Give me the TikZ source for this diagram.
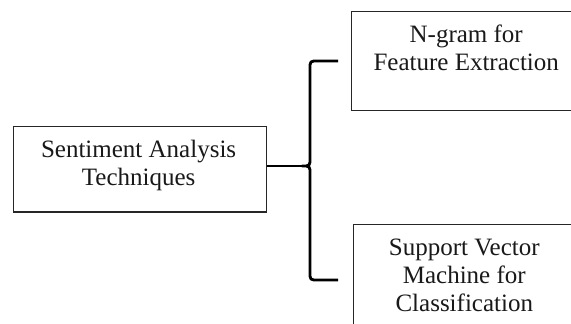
\documentclass[tikz,border=0pt]{standalone}
\usepackage{fontspec}
\setmainfont{Liberation Serif}
\begin{document}
\begin{tikzpicture}[x=1pt,y=-1pt,
  boxstyle/.style={draw=black!85, line width=1.3pt, rectangle, inner sep=0pt},
  txtstyle/.style={align=center, inner sep=0pt, font=\fontsize{25}{28}\selectfont, text=black!90},
  bracestyle/.style={draw=black, line width=2.8pt, line join=round}]
\useasboundingbox (0,0) rectangle (571,324);
\fill[white] (0,0) rectangle (571,324);
\clip (0,0) rectangle (571,324);
% boxes
\node[boxstyle, minimum width=253pt, minimum height=85.5pt] (sat) at (140,169.3) {};
\node[boxstyle, minimum width=250pt, minimum height=99pt, anchor=north west] (ngram) at (351,11) {};
\node[boxstyle, minimum width=250pt, minimum height=120pt, anchor=north west] (svm) at (352.7,223.5) {};
% texts
\node[txtstyle, anchor=base] (sattxt) at (138.6,185.7) {Sentiment Analysis\\Techniques};
\node[txtstyle, anchor=base] (ngramtxt) at (466.2,70.7) {N-gram for\\Feature Extraction};
\node[txtstyle, anchor=base] (svmtxt) at (464.3,311.7) {Support Vector\\Machine for\\Classification};
% brace
\coordinate (tip) at (302,166);
\coordinate (topend) at (338,61);
\coordinate (botend) at (338,280);
\draw[bracestyle] (sat.east |- tip) -- (tip);
\draw[bracestyle] (topend) -- (318,61) .. controls (310,61) .. (310,69) -- (310,158) .. controls (310,166) .. (tip)
  .. controls (310,166) .. (310,174) -- (310,272) .. controls (310,280) .. (318,280) -- (botend);
\end{tikzpicture}
\end{document}
